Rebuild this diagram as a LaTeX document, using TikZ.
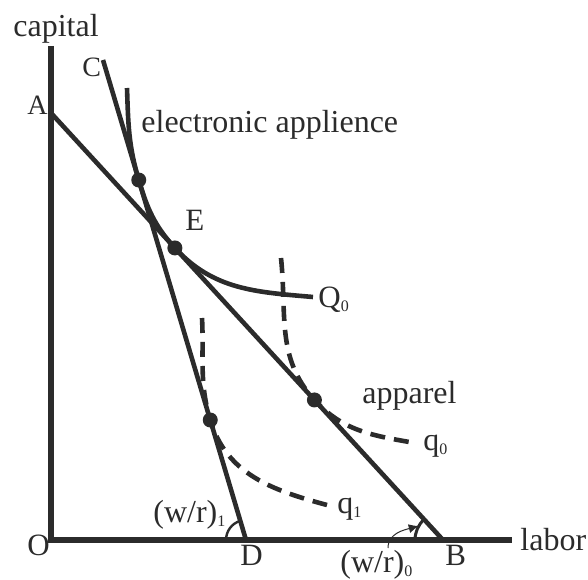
\documentclass[tikz,border=0pt]{standalone}
\usepackage{fontspec}
\setmainfont{Liberation Serif}
\usepackage{tikz}
\usetikzlibrary{arrows.meta, calc}
\definecolor{ink}{HTML}{2B2B2B}
\newcommand{\lowsub}[1]{\raisebox{-2pt}{\fontsize{8}{8}\selectfont #1}}

\begin{document}
\begin{tikzpicture}[x=0.5pt, y=0.5pt,
  axis/.style={ink, line width=3pt},
  budget/.style={ink, line width=2.3pt},
  isoq/.style={ink, line width=2.3pt},
  isoqdash/.style={ink, line width=2.3pt, dash pattern=on 7.5pt off 4.5pt},
  dot/.style={circle, fill=ink, inner sep=0pt, minimum size=7.5pt},
  word/.style={text=ink, inner sep=0pt, anchor=base west, font=\fontsize{16}{18}\selectfont},
  letter/.style={text=ink, inner sep=0pt, anchor=base west, font=\fontsize{15.5}{17}\selectfont}]
  \useasboundingbox (0,0) rectangle (588,579);
  % axes
  \coordinate (O) at (51,39);
  \coordinate (ytop) at (51,533);
  \coordinate (xend) at (512,39);
  \draw[axis] (ytop) -- (O) -- (xend);
  % isocost lines
  \coordinate (A) at (51,466);
  \coordinate (B) at (443,39);
  \coordinate (C) at (103,519);
  \coordinate (D) at (246,39);
  \draw[budget] (A) -- (B);
  \draw[budget] (C) -- (D);
  % tangency points
  \coordinate (t1) at ($(C)!0.25!(D)$);
  \coordinate (E)  at ($(A)!0.316!(B)$);
  \coordinate (t3) at ($(C)!0.75!(D)$);
  \coordinate (t4) at ($(A)!0.672!(B)$);
  % isoquants
  \coordinate (Qs) at (127,491);
  \coordinate (Qe) at (313,282);
  \draw[isoq] (Qs) to[out=-88,in=106.6] (t1) to[out=-73.4,in=132.55] (E)
    to[out=-47.45,in=175] (Qe);
  \coordinate (q0s) at (281,321);
  \coordinate (q0e) at (415,136);
  \draw[isoqdash] (q0s) to[out=-84,in=132.55] (t4) to[out=-47.45,in=170] (q0e);
  \coordinate (q1s) at (202,261);
  \coordinate (q1e) at (327,74);
  \draw[isoqdash] (q1s) to[out=-87,in=106.6] (t3) to[out=-73.4,in=165] (q1e);
  \node[dot] (t1dot) at (t1) {};
  \node[dot] (Edot)  at (E) {};
  \node[dot] (t3dot) at (t3) {};
  \node[dot] (t4dot) at (t4) {};
  % angles
  \draw[ink, line width=1.2pt] ($(D)+(180:20)$) arc[start angle=180, end angle=106.6, radius=20];
  \draw[ink, line width=1.5pt] ($(B)+(180:28)$) arc[start angle=180, end angle=132.55, radius=28];
  \coordinate (tail) at (388,31);
  \coordinate (tip) at ($(B)+(150:28)$);
  \draw[ink, line width=0.5pt, -{Latex[length=5pt,width=4.5pt]}] (tail) to[out=90,in=195] (tip);
  % labels
  \node[word] (capital) at (13,542) {capital};
  \node[letter, font=\fontsize{14}{16}\selectfont] (Clbl) at (82,502) {C};
  \node[letter, font=\fontsize{14}{16}\selectfont] (Albl) at (27,464) {A};
  \node[word] (elec) at (141,446) {electronic applience};
  \node[letter] (Elbl) at (185,349) {E};
  \node[letter] (Q0) at (318,272) {Q\lowsub{0}};
  \node[word] (app) at (362,176) {apparel};
  \node[word] (q0) at (423,129) {q\lowsub{0}};
  \node[word] (q1) at (337,66) {q\lowsub{1}};
  \node[word] (wr1) at (153,57) {(w/r)\lowsub{1}};
  \node[letter] (Dlbl) at (240,14) {D};
  \node[word] (wr0) at (340,7) {(w/r)\lowsub{0}};
  \node[letter] (Blbl) at (445,14) {B};
  \node[word] (labor) at (520,29) {labor};
  \node[letter] (Olbl) at (27,24) {O};
\end{tikzpicture}
\end{document}
